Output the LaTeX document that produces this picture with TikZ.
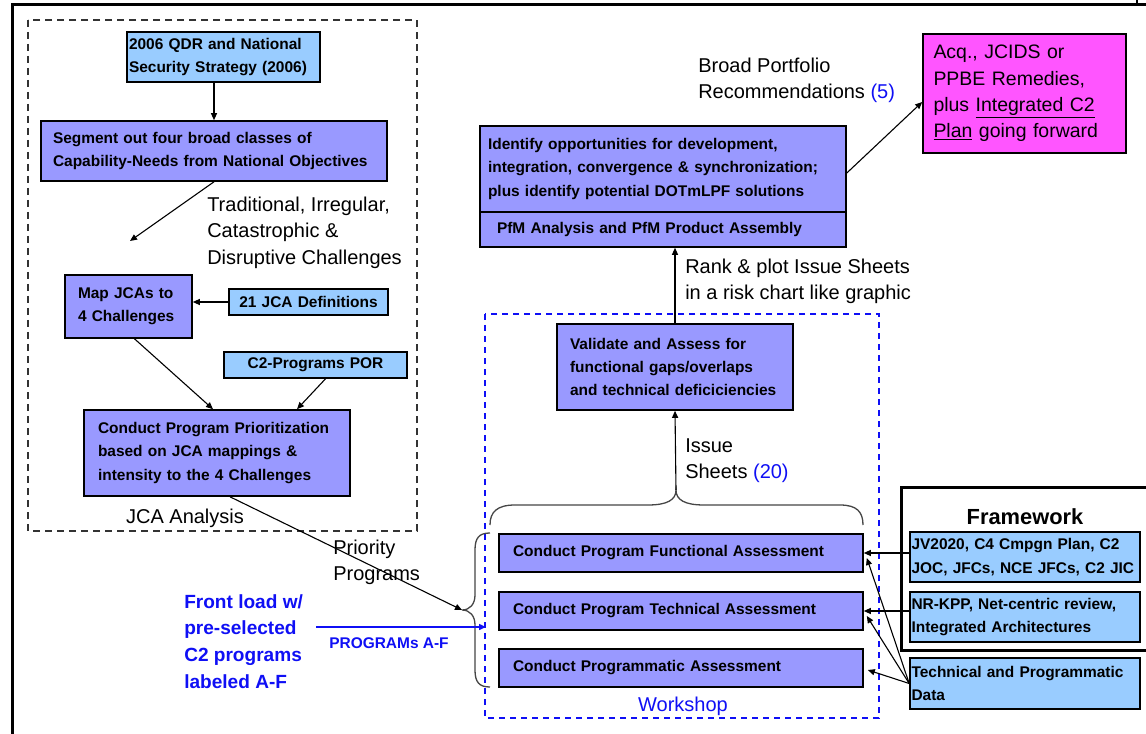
\documentclass[tikz,border=0pt]{standalone}
\usepackage{fontspec}
\setmainfont{Liberation Sans}
\usetikzlibrary{arrows.meta,calc}

% one drawing unit = one pixel of the layout grid
\newdimen\pxu \pxu=0.75pt

\definecolor{boxpurple}{RGB}{153,153,255}
\definecolor{boxblue}{RGB}{153,204,255}
\definecolor{boxpink}{RGB}{255,85,255}
\definecolor{noteblue}{RGB}{15,15,245}
\definecolor{bracegray}{RGB}{70,70,70}

\newcommand\boxfont{\fontsize{11.6pt}{17.6pt}\selectfont\bfseries}
\newcommand\labfont{\fontsize{15pt}{19.6pt}\selectfont}
\newcommand\bluefont{\fontsize{14.3pt}{20pt}\selectfont\bfseries}
\newcommand\pinkfont{\fontsize{14.6pt}{19.7pt}\selectfont}
\newcommand\fwfont{\fontsize{16.4pt}{20pt}\selectfont\bfseries}

\tikzset{
  stepbox/.style={draw=black, line width=1.6\pxu, inner sep=0pt, align=left, font=\boxfont},
  purplebox/.style={stepbox, fill=boxpurple},
  bluebox/.style={stepbox, fill=boxblue},
  pinkbox/.style={stepbox, fill=boxpink, font=\pinkfont},
  lab/.style={inner sep=0pt, align=left, font=\labfont, anchor=north west},
  bluelab/.style={lab, text=noteblue, font=\bluefont},
  arr/.style={draw=black, line width=1.1\pxu, -{Triangle[length=5.25pt,width=4.5pt]}},
  bluearr/.style={draw=noteblue, line width=1.4\pxu, -{Triangle[length=5.25pt,width=4.5pt]}},
  bracepath/.style={draw=bracegray, line width=1.3\pxu},
  jcaframe/.style={draw=black!80, line width=1.3\pxu, dash pattern=on 7\pxu off 5\pxu},
  wsframe/.style={draw=noteblue, line width=1.4\pxu, dash pattern=on 6\pxu off 5\pxu},
}

\begin{document}
\begin{tikzpicture}[x=0.75pt, y=-0.75pt]
\useasboundingbox (0,0) rectangle (1146,734);
\fill[white] (0,0) rectangle (1146,734);

% outer frame
\draw[line width=3\pxu] (12,734) -- (12,4.5) -- (1146,4.5);
\draw[line width=1.5\pxu] (1137,0) -- (1137,4.5);

% ---------------- JCA analysis group ----------------
\draw[jcaframe] (28,20) rectangle (417,531);
\node[font=\labfont, inner sep=0pt] (jcalab) at (185,518) {JCA Analysis};

\node[bluebox, minimum width=193\pxu, minimum height=50\pxu, text width=189\pxu] (qdr) at (223.5,57)
  {2006 QDR and National\\Security Strategy (2006)};
\node[purplebox, minimum width=346\pxu, minimum height=60\pxu, text width=322\pxu] (seg) at (214,151)
  {Segment out four broad classes of\\Capability-Needs from National Objectives};
\node[purplebox, minimum width=127\pxu, minimum height=63\pxu, text width=101\pxu] (map) at (128.5,306.5)
  {Map JCAs to\\4 Challenges};
\node[bluebox, align=center, minimum width=159\pxu, minimum height=26\pxu, text width=155\pxu] (def) at (308.5,302)
  {21 JCA Definitions};
\node[bluebox, align=center, minimum width=183\pxu, minimum height=26\pxu, text width=179\pxu] (por) at (315.5,365)
  {C2-Programs POR};
\node[purplebox, minimum width=266\pxu, minimum height=86\pxu, text width=238\pxu] (prior) at (217,453)
  {Conduct Program Prioritization\\based on JCA mappings \&\\intensity to the 4 Challenges};

\node[lab] (chal) at (207,197)
  {Traditional, Irregular,\\Catastrophic \&\\Disruptive Challenges};

\coordinate (mapin) at (130,241);
\draw[arr] (seg.north |- qdr.south) -- (seg.north);
\draw[arr] (seg.south) -- (mapin);
\draw[arr] (def.west) -- (map.east |- def.west);
\draw[arr] ($(map.south)+(6,0)$) -- ($(prior.north)+(-4,0)$);
\draw[arr] ($(por.south)+(10,0)$) -- ($(prior.north)+(80,0)$);

% ---------------- workshop group ----------------
\draw[wsframe] (485,314) rectangle (879,718);
\node[font=\labfont, text=noteblue, inner sep=0pt] (wslab) at (683,706) {Workshop};

\node[purplebox, minimum width=236\pxu, minimum height=86\pxu, text width=210\pxu] (val) at (675,367)
  {Validate and Assess for\\functional gaps/overlaps\\and technical deficiciencies};
\node[purplebox, minimum width=364\pxu, minimum height=38\pxu, text width=336\pxu] (func) at (681,553)
  {Conduct Program Functional Assessment};
\node[purplebox, minimum width=364\pxu, minimum height=38\pxu, text width=336\pxu] (tech) at (681,611)
  {Conduct Program Technical Assessment};
\node[purplebox, minimum width=364\pxu, minimum height=38\pxu, text width=336\pxu] (prog) at (681,668)
  {Conduct Programmatic Assessment};

% braces gathering the three assessments
\coordinate (lbtip) at (462,610);
\coordinate (tbtip) at (676,490);
\draw[bracepath] (490,533) .. controls (479,533) and (475,538) .. (475,550) -- (475,595)
  .. controls (475,604) and (470,610) .. (lbtip)
  .. controls (470,610) and (475,616) .. (475,625) -- (475,670)
  .. controls (475,682) and (479,687) .. (490,687);
\draw[bracepath] (490,525) .. controls (490,512) and (497,505) .. (515,505) -- (648,505)
  .. controls (667,505) and (676,500) .. (tbtip)
  .. controls (676,500) and (685,505) .. (704,505) -- (840,505)
  .. controls (857,505) and (863,512) .. (863,525);

\draw[arr] (tbtip) -- (val.south);
\node[lab] (issue) at (685,438) {Issue\\Sheets {\color{noteblue}(20)}};

% ---------------- portfolio management ----------------
\node[purplebox, minimum width=366\pxu, minimum height=86\pxu, text width=350\pxu] (ident) at (663,169)
  {Identify opportunities for development,\\integration, convergence \& synchronization;\\plus identify potential DOTmLPF solutions};
\node[purplebox, minimum width=366\pxu, minimum height=35\pxu, text width=332\pxu] (pfm) at (663,229.5)
  {PfM Analysis and PfM Product Assembly};
\node[pinkbox, minimum width=203\pxu, minimum height=119\pxu, text width=182\pxu] (pink) at (1024.5,93.5)
  {Acq., JCIDS or\\PPBE Remedies,\\plus \underline{Integrated C2}\\\underline{Plan} going forward};

\draw[arr] (val.north) -- (val.north |- pfm.south);
\node[lab] (rank) at (685,259) {Rank \& plot Issue Sheets\\in a risk chart like graphic};
\draw[arr] ($(ident.east)+(0,4)$) -- ($(pink.west)+(0,8.5)$);
\node[lab] (broad) at (698,58) {Broad Portfolio\\Recommendations {\color{noteblue}(5)}};

% ---------------- inputs on the left ----------------
\draw[arr] ($(prior.south)+(13,0)$) -- (lbtip);
\node[lab] (prio) at (333,540) {Priority\\Programs};
\node[bluelab] (front) at (184,594) {Front load w/\\pre-selected\\C2 programs\\labeled A-F};
\coordinate (fa) at (316,627);
\coordinate (fb) at (486,627);
\draw[bluearr] (fa) -- (fb);
\node[bluelab, font=\boxfont] (progaf) at (329,637) {PROGRAMs A-F};

% ---------------- framework ----------------
\draw[line width=3\pxu] (1150,487) -- (901,487) -- (901,650) -- (1150,650);
\node[font=\fwfont, inner sep=0pt] (fwlab) at (1025,517) {Framework};
\node[bluebox, minimum width=230\pxu, minimum height=50\pxu, text width=227\pxu] (jv) at (1025,557)
  {JV2020, C4 Cmpgn Plan, C2\\JOC, JFCs, NCE JFCs, C2 JIC};
\node[bluebox, minimum width=230\pxu, minimum height=50\pxu, text width=227\pxu] (nr) at (1025,617)
  {NR-KPP, Net-centric review,\\Integrated Architectures};
\node[bluebox, minimum width=230\pxu, minimum height=51\pxu, text width=227\pxu] (tdata) at (1025,683.5)
  {Technical and Programmatic\\Data};

\draw[arr] (jv.west |- func.east) -- (func.east);
\draw[arr] (nr.west |- tech.east) -- (tech.east);
\draw[arr] (tdata.west) -- ($(func.east)+(3,5)$);
\draw[arr] (tdata.west) -- ($(tech.east)+(3,5)$);
\draw[arr] (tdata.west) -- ($(prog.east)+(4,2)$);
\end{tikzpicture}
\end{document}
